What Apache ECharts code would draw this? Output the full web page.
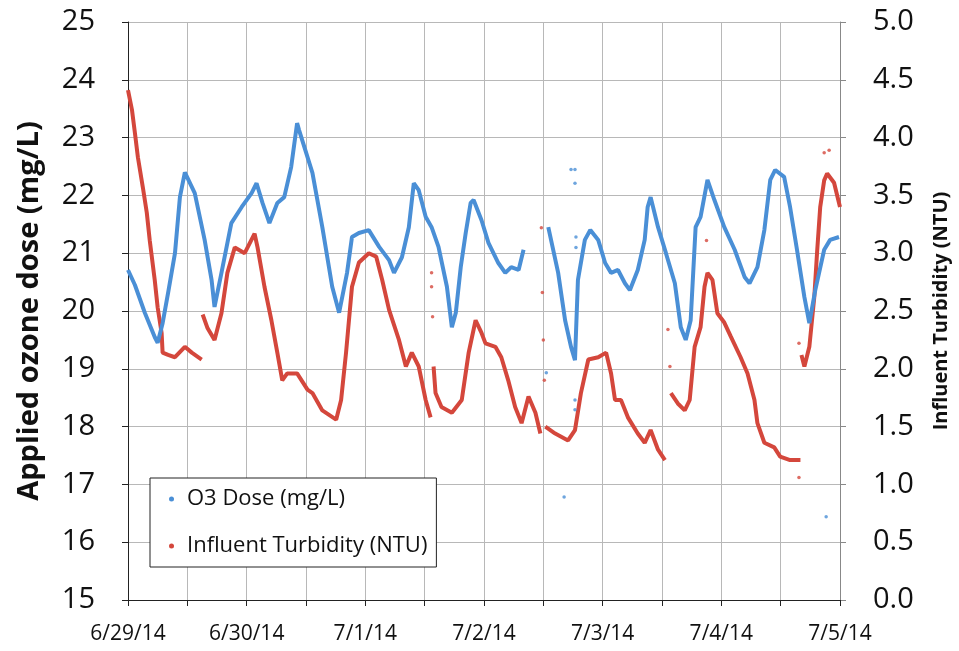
<!DOCTYPE html>
<html>
<head>
<meta charset="utf-8">
<script src="https://cdn.jsdelivr.net/npm/echarts@6/dist/echarts.min.js"></script>
<style>html,body{margin:0;padding:0;background:#fff}#c{width:959px;height:651px}</style>
</head>
<body>
<div id="c"></div>
<script>
// X tick labels (one per day, ticks every 12 h)
const xTickLabels = ['6/29/14','6/30/14','7/1/14','7/2/14','7/3/14','7/4/14','7/5/14'];

// O3 dose: hours since 6/29/14 00:00, dose (mg/L); null = gap in record
const o3Hours = [0,1.4,3.4,5.4,6.0,7.0,8.1,9.5,10.5,11.5,13.5,15.5,16.9,17.5,18.9,20.9,23.0,25.0,26.0,27.2,28.6,30.2,31.6,33.0,34.2,34.6,37.3,39.3,41.3,42.7,44.3,45.3,46.7,48.7,50.8,52.8,53.8,55.4,56.8,57.8,58.8,60.2,61.4,62.8,64.5,65.5,66.3,67.3,68.3,69.3,69.9,71.5,72.9,74.9,76.3,77.5,79.0,80.0,82.0,85.0,87.0,88.4,89.6,90.4,91.0,92.4,93.5,95.1,96.5,97.7,99.1,100.5,101.5,103.1,104.5,105.1,105.7,107.2,108.8,110.6,111.8,112.8,113.8,114.8,115.8,117.2,118.6,120.6,122.7,124.7,125.7,127.3,128.7,129.9,130.9,132.7,133.9,135.3,136.8,137.8,139.0,140.8,142.0,143.8];
const o3Dose = [20.71,20.45,19.97,19.55,19.45,19.79,20.31,21.0,21.97,22.40,22.04,21.23,20.54,20.07,20.66,21.52,21.80,22.04,22.21,21.87,21.52,21.87,21.97,22.49,23.25,23.13,22.39,21.45,20.42,19.97,20.66,21.28,21.35,21.40,21.11,20.88,20.66,20.93,21.45,22.21,22.09,21.63,21.45,21.11,20.42,19.72,19.97,20.76,21.35,21.87,21.92,21.57,21.18,20.83,20.66,20.76,20.71,21.06,null,21.45,20.66,19.84,19.38,19.15,20.54,21.23,21.40,21.23,20.83,20.66,20.71,20.48,20.36,20.71,21.23,21.80,21.97,21.45,21.0,20.48,19.72,19.50,19.84,21.45,21.63,22.27,21.92,21.45,21.06,20.59,20.48,20.76,21.40,22.27,22.44,22.32,21.80,21.06,20.24,19.79,20.36,21.06,21.23,21.28];
// isolated O3 readings
const o3OutHours = [89.6,90.4,90.4,90.6,90.6,90.4,90.4,84.6,88.2,141.2];
const o3OutDose = [22.45,22.45,22.21,21.28,21.1,18.46,18.29,18.93,16.78,16.44];

// Influent turbidity: hours, NTU; null = gap in record
const turbHours = [0,0.8,1.4,2.0,3.0,3.8,4.4,5.4,6.0,6.8,7.0,8.1,9.5,11.5,12.9,14.9,15.0,15.1,16.1,17.5,18.9,20.1,21.6,23.6,25.6,26.2,27.6,29.0,30.2,31.2,32.2,34.2,36.3,37.3,39.3,42.1,43.1,44.1,45.3,46.7,48.7,50.2,51.4,52.8,54.8,56.2,57.4,58.8,60.2,61.2,61.5,61.8,62.2,63.4,65.5,67.5,68.9,70.3,71.5,72.3,74.3,75.5,76.9,78.3,79.6,81.0,82.4,83.4,84.0,84.4,86.4,89.0,90.4,91.6,93.1,95.1,96.7,97.7,98.5,99.7,101.1,103.1,104.5,105.7,107.2,108.6,109.2,109.8,111.2,112.6,113.6,114.6,115.8,116.6,117.2,118.2,119.2,120.6,121.9,123.9,125.3,126.7,127.3,128.7,130.7,131.9,133.9,136.0,136.1,136.2,136.8,137.8,138.8,139.4,140.0,140.8,141.4,142.8,144.0];
const turbNtu = [4.41,4.24,4.04,3.83,3.57,3.35,3.11,2.77,2.53,2.31,2.14,2.12,2.10,2.19,2.14,2.08,null,2.47,2.35,2.25,2.48,2.83,3.05,3.00,3.17,3.05,2.71,2.42,2.14,1.90,1.96,1.96,1.82,1.79,1.64,1.56,1.73,2.14,2.71,2.92,3.00,2.97,2.77,2.51,2.25,2.02,2.14,2.02,1.73,1.58,null,2.02,1.79,1.67,1.62,1.73,2.14,2.42,2.31,2.22,2.19,2.10,1.90,1.67,1.53,1.76,1.62,1.44,null,1.50,1.44,1.38,1.47,1.79,2.08,2.10,2.14,1.96,1.73,1.73,1.58,1.44,1.36,1.47,1.30,1.21,null,1.79,1.70,1.64,1.73,2.19,2.36,2.71,2.83,2.77,2.48,2.40,2.28,2.10,1.96,1.73,1.53,1.36,1.32,1.24,1.21,1.21,null,2.12,2.02,2.19,2.62,3.03,3.40,3.63,3.69,3.61,3.40];
// isolated turbidity readings
const turbOutHours = [61.4,61.4,61.6,83.6,83.8,84.0,84.2,109.2,109.6,117.0,135.7,135.7,140.8,141.8];
const turbOutNtu = [2.83,2.71,2.45,3.22,2.66,2.25,1.90,2.34,2.02,3.11,1.06,2.22,3.87,3.89];

const BLUE = '#4a8fd6', RED = '#d4473c';
const FONT = 'Open Sans';
const pair = (xs, ys) => xs.map((x, i) => [x, ys[i] === null ? '-' : ys[i]]);

const chart = echarts.init(document.getElementById('c'), null, {renderer: 'canvas'});
chart.setOption({
  animation: false,
  backgroundColor: '#fff',
  grid: {left: 128, right: 116, top: 22, bottom: 51, containLabel: false},
  legend: {
    left: 150, top: 478, orient: 'vertical',
    backgroundColor: '#fff', borderColor: '#222', borderWidth: 1,
    padding: [10, 9, 10, 19], itemGap: 25,
    itemWidth: 5, itemHeight: 5, icon: 'circle',
    textStyle: {fontFamily: FONT, fontSize: 22, color: '#111', padding: [0, 0, 0, 8]},
    data: ['O3 Dose (mg/L)', 'Influent Turbidity (NTU)']
  },
  xAxis: {
    type: 'value', min: 0, max: 144, interval: 12,
    axisLine: {lineStyle: {color: '#222', width: 1}},
    axisTick: {show: true, length: 6, lineStyle: {color: '#222'}},
    axisLabel: {
      fontFamily: FONT, fontSize: 21, color: '#111', margin: 24,
      formatter: v => (v % 24 === 0 ? xTickLabels[v / 24] : '')
    },
    splitLine: {show: true, lineStyle: {color: '#b8b8b8', width: 1}}
  },
  yAxis: [{
    type: 'value', min: 15, max: 25, interval: 1,
    name: 'Applied ozone dose (mg/L)', nameLocation: 'middle', nameGap: 84, nameRotate: 90,
    nameTextStyle: {fontFamily: FONT, fontSize: 29, fontWeight: 'bold', color: '#111'},
    axisLine: {show: true, lineStyle: {color: '#222', width: 1}},
    axisTick: {show: true, length: 6, lineStyle: {color: '#222'}},
    axisLabel: {fontFamily: FONT, fontSize: 29, color: '#111', margin: 33},
    splitLine: {show: true, lineStyle: {color: '#b8b8b8', width: 1}}
  }, {
    type: 'value', min: 0, max: 5, interval: 0.5, position: 'right',
    name: 'Influent Turbidity (NTU)', nameLocation: 'middle', nameGap: 91, nameRotate: 90,
    nameTextStyle: {fontFamily: FONT, fontSize: 20, fontWeight: 'bold', color: '#111'},
    axisLine: {show: true, lineStyle: {color: '#888', width: 1}},
    axisTick: {show: true, length: 6, lineStyle: {color: '#888'}},
    axisLabel: {fontFamily: FONT, fontSize: 29, color: '#111', margin: 33, formatter: v => v.toFixed(1)},
    splitLine: {show: false}
  }],
  series: [{
    name: 'O3 Dose (mg/L)', type: 'line', yAxisIndex: 0,
    data: pair(o3Hours, o3Dose), showSymbol: false, connectNulls: false,
    lineStyle: {color: BLUE, width: 4}, itemStyle: {color: BLUE}, z: 3
  }, {
    name: 'O3 Dose (mg/L)', type: 'scatter', yAxisIndex: 0,
    data: pair(o3OutHours, o3OutDose), symbolSize: 3.5, itemStyle: {color: BLUE}, z: 3
  }, {
    name: 'Influent Turbidity (NTU)', type: 'line', yAxisIndex: 1,
    data: pair(turbHours, turbNtu), showSymbol: false, connectNulls: false,
    lineStyle: {color: RED, width: 4}, itemStyle: {color: RED}, z: 2
  }, {
    name: 'Influent Turbidity (NTU)', type: 'scatter', yAxisIndex: 1,
    data: pair(turbOutHours, turbOutNtu), symbolSize: 3.5, itemStyle: {color: RED}, z: 2
  }]
});
</script>
</body>
</html>
